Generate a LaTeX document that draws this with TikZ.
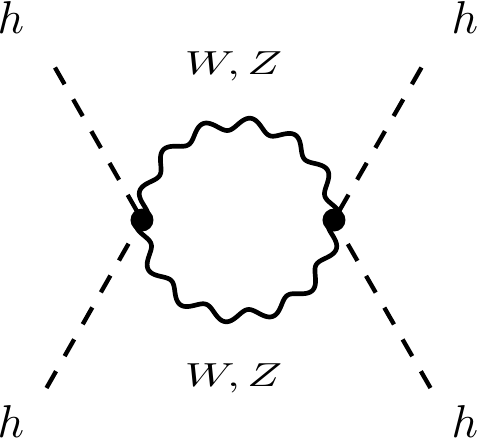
\documentclass[tikz,border=0pt]{standalone}
\usepackage{graphicx}
\begin{document}
\begin{tikzpicture}[x=0.3pt,y=0.3pt,
  scalar/.style={line width=1.3pt, dash pattern=on 5.8pt off 5.2pt},
  boson/.style={line width=1.4pt},
  vtx/.style={circle, fill=black, inner sep=0pt, minimum size=6.9pt},
  hlab/.style={inner sep=0pt, anchor=base, font=\normalsize},
  wlab/.style={inner sep=0pt, anchor=base, font=\normalsize}]
\useasboundingbox (0,0) rectangle (478,442);
% vertices and external points
\coordinate (c) at (238,222);
\coordinate (v1) at (142,222);
\coordinate (v2) at (334,222);
\coordinate (tl) at (55,374.5);
\coordinate (bl) at (46.5,54);
\coordinate (tr) at (421.5,374.5);
\coordinate (br) at (430.5,54);
% scalar lines
\draw[scalar] (tl) -- (v1);
\draw[scalar] (bl) -- (v1);
\draw[scalar] (tr) -- (v2);
\draw[scalar] (br) -- (v2);
% boson loop (polar wave around the loop centre c)
\begin{scope}[shift={(c)}]
\draw[boson] (v1) -- plot[domain=0:180, samples=361, smooth, variable=\t]
  ({180-\t}:{96.3+6.2*cos((\t-16.3)*13.36)}) -- (v2);
\draw[boson] (v2) -- plot[domain=0:180, samples=361, smooth, variable=\t]
  ({-\t}:{96.3+6.2*cos((\t-16.3)*13.36)}) -- (v1);
\end{scope}
% vertex dots
\node[vtx] (d1) at (v1) {};
\node[vtx] (d2) at (v2) {};
% labels
\node[hlab] (h1) at (11,408.5) {\scalebox{1.38}{$h$}};
\node[hlab] (h2) at (465,408.5) {\scalebox{1.38}{$h$}};
\node[hlab] (h3) at (11,4) {\scalebox{1.38}{$h$}};
\node[hlab] (h4) at (465,4) {\scalebox{1.38}{$h$}};
\node[wlab] (wt) at (233.6,367.7) {\scalebox{1.38}[1]{$W,Z$}};
\node[wlab] (wb) at (233.6,55.3) {\scalebox{1.38}[1]{$W,Z$}};
\end{tikzpicture}
\end{document}
